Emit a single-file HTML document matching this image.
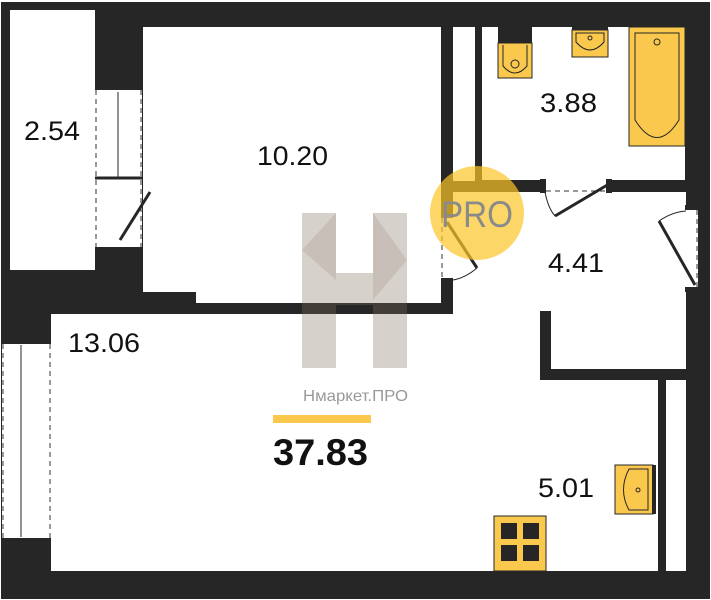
<!DOCTYPE html>
<html><head><meta charset="utf-8"><style>
html,body{margin:0;padding:0;background:#fff;width:711px;height:600px;overflow:hidden}
svg{display:block}
text{font-family:"Liberation Sans","DejaVu Sans",sans-serif}
</style></head><body>
<svg width="711" height="600" viewBox="0 0 711 600" xmlns="http://www.w3.org/2000/svg">
<rect x="1" y="2" width="709" height="597" fill="#262626"/>
<g fill="#fff">
<rect x="10" y="10" width="85" height="260"/>
<rect x="95" y="90" width="47" height="157"/>
<rect x="143" y="27" width="298" height="265"/>
<rect x="196" y="27" width="245" height="276"/>
<rect x="453" y="27" width="22" height="154"/>
<rect x="482" y="27" width="203" height="153"/>
<rect x="453" y="192" width="233" height="177"/>
<rect x="51" y="314" width="607" height="257"/>
<rect x="453" y="192" width="87" height="200"/>
<rect x="666" y="380" width="20" height="191"/>
<rect x="2" y="342" width="49" height="198"/>
<rect x="441" y="215" width="12" height="65"/>
<rect x="540" y="180" width="70" height="12"/>
<rect x="686" y="210" width="12" height="77"/>
</g>
<g fill="#262626">
<rect x="540" y="311" width="11" height="69"/>
<rect x="540" y="369" width="146" height="11"/>
<rect x="658" y="380" width="8" height="191"/>
<rect x="95" y="85" width="47" height="5"/>
<rect x="95" y="247" width="47" height="4"/>
<rect x="2" y="340" width="49" height="4"/>
<rect x="2" y="538" width="49" height="4"/>
<rect x="441" y="213" width="12" height="5"/>
<rect x="441" y="278" width="12" height="5"/>
<rect x="540" y="179" width="6" height="14"/>
<rect x="606" y="179" width="6" height="14"/>
<rect x="685" y="205" width="13" height="5"/>
<rect x="685" y="287" width="13" height="5"/>
</g>
<g stroke="#333" stroke-width="1" stroke-dasharray="5,4" fill="none">
<line x1="96" y1="90" x2="96" y2="247"/><line x1="141" y1="90" x2="141" y2="247"/>
<line x1="3" y1="344" x2="3" y2="538"/><line x1="50" y1="344" x2="50" y2="538"/>
<line x1="442" y1="218" x2="442" y2="278"/>
<line x1="546" y1="191" x2="606" y2="191"/>
<line x1="697" y1="210" x2="697" y2="287"/>
</g>
<g stroke="#262626" fill="none">
<line x1="118" y1="92" x2="118" y2="177" stroke-width="1"/>
<line x1="95" y1="178" x2="142" y2="178" stroke-width="3"/>
<line x1="120" y1="240" x2="150" y2="192" stroke-width="3"/>
<line x1="21" y1="345" x2="21" y2="537" stroke-width="1"/>
<line x1="447" y1="222" x2="477" y2="268" stroke-width="3"/>
<line x1="555" y1="216" x2="609" y2="184" stroke-width="3"/>
<path d="M545 192 Q548 208 555 216" stroke-width="1"/>
<line x1="659" y1="221" x2="695" y2="285" stroke-width="3"/>
<path d="M659 221 Q672 212 686 211" stroke-width="1"/>
<path d="M477 268 Q465 278 453 280" stroke-width="1"/>
</g>
<rect x="498" y="27" width="34" height="16" fill="#262626"/>
<rect x="498" y="43" width="34" height="35" fill="#fbc84e" stroke="#262626"/>
<path d="M503 45 V66 Q515 80 527 66 V45" fill="none" stroke="#262626"/>
<circle cx="515" cy="64" r="4" fill="none" stroke="#262626"/>
<rect x="572" y="26" width="36" height="4" fill="#262626"/>
<rect x="572" y="30" width="36" height="27" fill="#fbc84e" stroke="#262626"/>
<path d="M576 33 H604 V42 Q590 58 576 42 Z" fill="none" stroke="#262626"/>
<circle cx="590" cy="38" r="2" fill="none" stroke="#262626"/>
<rect x="629" y="27" width="56" height="119" fill="#fbc84e" stroke="#262626"/>
<path d="M635 33 H679 V120 Q657 155 635 120 Z" fill="none" stroke="#262626"/>
<circle cx="657" cy="42" r="3" fill="none" stroke="#262626"/>
<rect x="615" y="465" width="38" height="49" fill="#fbc84e" stroke="#262626"/>
<rect x="652" y="465" width="4" height="49" fill="#262626"/>
<path d="M629 469 H648 V510 H629 Q618 490 629 469 Z" fill="none" stroke="#262626"/>
<circle cx="638" cy="490" r="2" fill="none" stroke="#262626"/>
<rect x="494" y="516" width="52" height="55" fill="#fbc84e" stroke="#262626"/>
<g fill="#262626"><rect x="501" y="523" width="16" height="16"/><rect x="523" y="523" width="16" height="16"/><rect x="501" y="545" width="16" height="16"/><rect x="523" y="545" width="16" height="16"/></g>
<g fill="rgba(130,112,95,0.32)">
<rect x="302" y="213" width="34" height="155"/>
<rect x="373" y="213" width="34" height="155"/>
<rect x="336" y="273" width="37" height="32"/>
<polygon points="302,250 336,213 336,280" fill="rgba(130,112,95,0.18)"/>
<polygon points="373,213 407,260 373,300" fill="rgba(130,112,95,0.18)"/>
</g>
<circle cx="477" cy="213" r="47" fill="rgba(252,196,40,0.7)"/>
<text x="477" y="227" font-size="37" fill="#8a8a8a" text-anchor="middle" textLength="72" lengthAdjust="spacingAndGlyphs">PRO</text>
<text x="303" y="401" font-size="16" fill="#999" textLength="105" lengthAdjust="spacingAndGlyphs">Нмаркет.ПРО</text>
<rect x="273" y="415" width="98" height="8" fill="#fbc84e"/>
<text x="273" y="465" font-size="37" font-weight="bold" fill="#111" textLength="95" lengthAdjust="spacingAndGlyphs">37.83</text>
<g font-size="27" fill="#111">
<text x="24" y="140" textLength="56" lengthAdjust="spacingAndGlyphs">2.54</text>
<text x="257" y="165" textLength="71" lengthAdjust="spacingAndGlyphs">10.20</text>
<text x="540" y="112" textLength="57" lengthAdjust="spacingAndGlyphs">3.88</text>
<text x="548" y="272" textLength="56" lengthAdjust="spacingAndGlyphs">4.41</text>
<text x="68" y="352" textLength="72" lengthAdjust="spacingAndGlyphs">13.06</text>
<text x="538" y="497" textLength="56" lengthAdjust="spacingAndGlyphs">5.01</text>
</g>
</svg>
</body></html>
